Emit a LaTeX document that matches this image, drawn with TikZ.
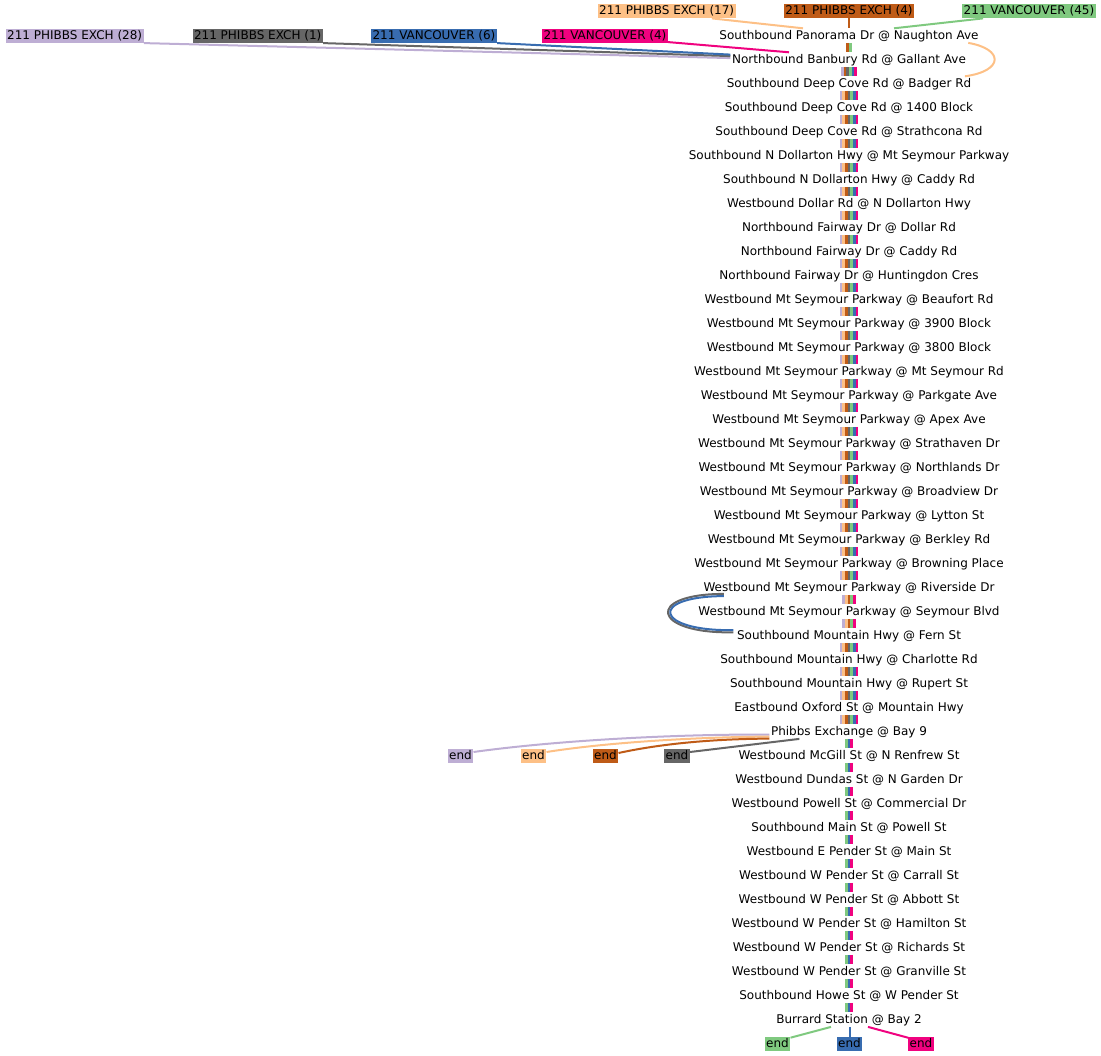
\documentclass[tikz,border=0pt]{standalone}
\usepackage{fontspec}
\setmainfont{DejaVu Sans}
\usepackage{tikz}
\definecolor{RouteLilac}{HTML}{BEAED4}
\definecolor{RoutePeach}{HTML}{FDC086}
\definecolor{RouteRust}{HTML}{BF5B17}
\definecolor{RouteGrey}{HTML}{666666}
\definecolor{RouteGreen}{HTML}{7FC97F}
\definecolor{RouteBlue}{HTML}{386CB0}
\definecolor{RoutePink}{HTML}{F0027F}
\newcommand\bundle[4]{\foreach \col [count=\k] in {#4}
  \draw[\col,line width=2.7pt] ([xshift={(\k-(#3+1)/2)*2.7}]s#1.south) -- ([xshift={(\k-(#3+1)/2)*2.7}]s#2.north);}

\begin{document}
\begin{tikzpicture}[x=1pt,y=-1pt,line cap=butt,font=\fontsize{12}{14}\selectfont,
  stop/.style={anchor=base,inner xsep=1.5pt,inner ysep=1pt,text height=9.7pt,text depth=2.5pt},
  route/.style={fill=#1,inner xsep=1.5pt,inner ysep=1pt,text height=9.7pt,text depth=2.5pt},
  link/.style={#1,line width=2pt}]
  \useasboundingbox (0,0) rectangle (1101,1056);
  \foreach \name [count=\i] in {Southbound Panorama Dr @ Naughton Ave, Northbound Banbury Rd @ Gallant Ave,
    Southbound Deep Cove Rd @ Badger Rd, Southbound Deep Cove Rd @ 1400 Block, Southbound Deep Cove Rd @ Strathcona Rd,
    Southbound N Dollarton Hwy @ Mt Seymour Parkway, Southbound N Dollarton Hwy @ Caddy Rd, Westbound Dollar Rd @ N Dollarton Hwy,
    Northbound Fairway Dr @ Dollar Rd, Northbound Fairway Dr @ Caddy Rd, Northbound Fairway Dr @ Huntingdon Cres,
    Westbound Mt Seymour Parkway @ Beaufort Rd, Westbound Mt Seymour Parkway @ 3900 Block, Westbound Mt Seymour Parkway @ 3800 Block,
    Westbound Mt Seymour Parkway @ Mt Seymour Rd, Westbound Mt Seymour Parkway @ Parkgate Ave, Westbound Mt Seymour Parkway @ Apex Ave,
    Westbound Mt Seymour Parkway @ Strathaven Dr, Westbound Mt Seymour Parkway @ Northlands Dr, Westbound Mt Seymour Parkway @ Broadview Dr,
    Westbound Mt Seymour Parkway @ Lytton St, Westbound Mt Seymour Parkway @ Berkley Rd, Westbound Mt Seymour Parkway @ Browning Place,
    Westbound Mt Seymour Parkway @ Riverside Dr, Westbound Mt Seymour Parkway @ Seymour Blvd, Southbound Mountain Hwy @ Fern St,
    Southbound Mountain Hwy @ Charlotte Rd, Southbound Mountain Hwy @ Rupert St, Eastbound Oxford St @ Mountain Hwy,
    Phibbs Exchange @ Bay 9, Westbound McGill St @ N Renfrew St, Westbound Dundas St @ N Garden Dr, Westbound Powell St @ Commercial Dr,
    Southbound Main St @ Powell St, Westbound E Pender St @ Main St, Westbound W Pender St @ Carrall St, Westbound W Pender St @ Abbott St,
    Westbound W Pender St @ Hamilton St, Westbound W Pender St @ Richards St, Westbound W Pender St @ Granville St,
    Southbound Howe St @ W Pender St, Burrard Station @ Bay 2}
    \node[stop] (s\i) at (849,{39.2+24*(\i-1)}) {\name};

  \node[route=RouteLilac] (phibbs28) at (74.7,35.8) {211 PHIBBS EXCH (28)};
  \node[route=RouteGrey] (phibbs1) at (257.7,35.8) {211 PHIBBS EXCH (1)};
  \node[route=RouteBlue] (vancouver6) at (434,35.8) {211 VANCOUVER (6)};
  \node[route=RoutePink] (vancouver4) at (605,35.8) {211 VANCOUVER (4)};
  \node[route=RoutePeach] (phibbs17) at (666.7,11.1) {211 PHIBBS EXCH (17)};
  \node[route=RouteRust] (phibbs4) at (849,11.1) {211 PHIBBS EXCH (4)};
  \node[route=RouteGreen] (vancouver45) at (1029,11.1) {211 VANCOUVER (45)};
  \node[route=RouteLilac] (end28) at (460.5,756) {end};\node[route=RoutePeach] (end17) at (533.5,756) {end};
  \node[route=RouteRust] (end4) at (605.5,756) {end};\node[route=RouteGrey] (end1) at (677,756) {end};
  \node[route=RouteGreen] (end45) at (777.5,1044) {end};\node[route=RouteBlue] (end6) at (849.5,1044) {end};
  \node[route=RoutePink] (endv4) at (921,1044) {end};

  \draw[link=RouteLilac] (phibbs28.south east) -- ([yshift=1.5pt]s2.west);
  \draw[link=RouteGrey] (phibbs1.south east) -- ([yshift=3.5pt]s2.west);
  \draw[link=RouteBlue] (vancouver6.south east) -- ([yshift=5pt]s2.west);
  \draw[link=RoutePink] ([yshift=1pt]vancouver4.south east) -- ([xshift=-60pt]s2.north);
  \draw[link=RoutePeach] ([xshift=-24pt]phibbs17.south east) -- ([xshift=-46pt]s1.north);
  \draw[link=RouteRust] (phibbs4.south) -- (s1.north);
  \draw[link=RouteGreen] ([xshift=21pt]vancouver45.south west) -- ([xshift=45pt]s1.north);
  \draw[link=RoutePeach] ([xshift=-12pt]s1.south east) .. controls (1004,49) and (1004,71) .. ([xshift=-8pt]s3.north east);

  \bundle{1}{2}{2}{RouteRust,RouteGreen}
  \bundle{2}{3}{6}{RouteLilac,RouteRust,RouteGrey,RouteGreen,RouteBlue,RoutePink}
  \foreach \i in {3,...,23,26,27,28,29} {\pgfmathtruncatemacro\j{\i+1}
    \bundle{\i}{\j}{7}{RouteLilac,RoutePeach,RouteRust,RouteGrey,RouteGreen,RouteBlue,RoutePink}}
  \bundle{24}{25}{5}{RouteLilac,RoutePeach,RouteRust,RouteGreen,RoutePink}
  \bundle{25}{26}{5}{RouteLilac,RoutePeach,RouteRust,RouteGreen,RoutePink}
  \foreach \i in {30,...,41} {\pgfmathtruncatemacro\j{\i+1}\bundle{\i}{\j}{3}{RouteGreen,RouteBlue,RoutePink}}

  \draw[link=RouteGrey] ([xshift=22pt,yshift=1pt]s24.south west) .. controls (644,594) and (652,634) .. ([xshift=-2pt,yshift=-4pt]s26.north west);
  \draw[link=RouteBlue] ([xshift=22pt,yshift=-1.2pt]s24.south west) .. controls (647,596.5) and (655,631.5) .. ([xshift=-2pt,yshift=-1.8pt]s26.north west);

  \draw[link=RouteLilac] ([yshift=-3pt]s30.west) .. controls (680,734) and (560,740) .. ([yshift=4pt]end28.east);
  \draw[link=RoutePeach] ([yshift=-5pt]s30.west) .. controls (700,737) and (610,742) .. ([yshift=4pt]end17.east);
  \draw[link=RouteRust] ([yshift=-7pt]s30.west) .. controls (710,739) and (660,744) .. ([yshift=3pt]end4.east);
  \draw[link=RouteGrey] ([xshift=30pt]s30.south west) -- ([yshift=4pt]end1.east);

  \draw[link=RouteGreen] ([xshift=-18pt]s42.south) -- ([yshift=-1pt]end45.north east);
  \draw[link=RouteBlue] ([xshift=0.5pt]s42.south) -- (end6.north);
  \draw[link=RoutePink] ([xshift=19pt]s42.south) -- ([yshift=-1pt]endv4.north west);
\end{tikzpicture}
\end{document}
